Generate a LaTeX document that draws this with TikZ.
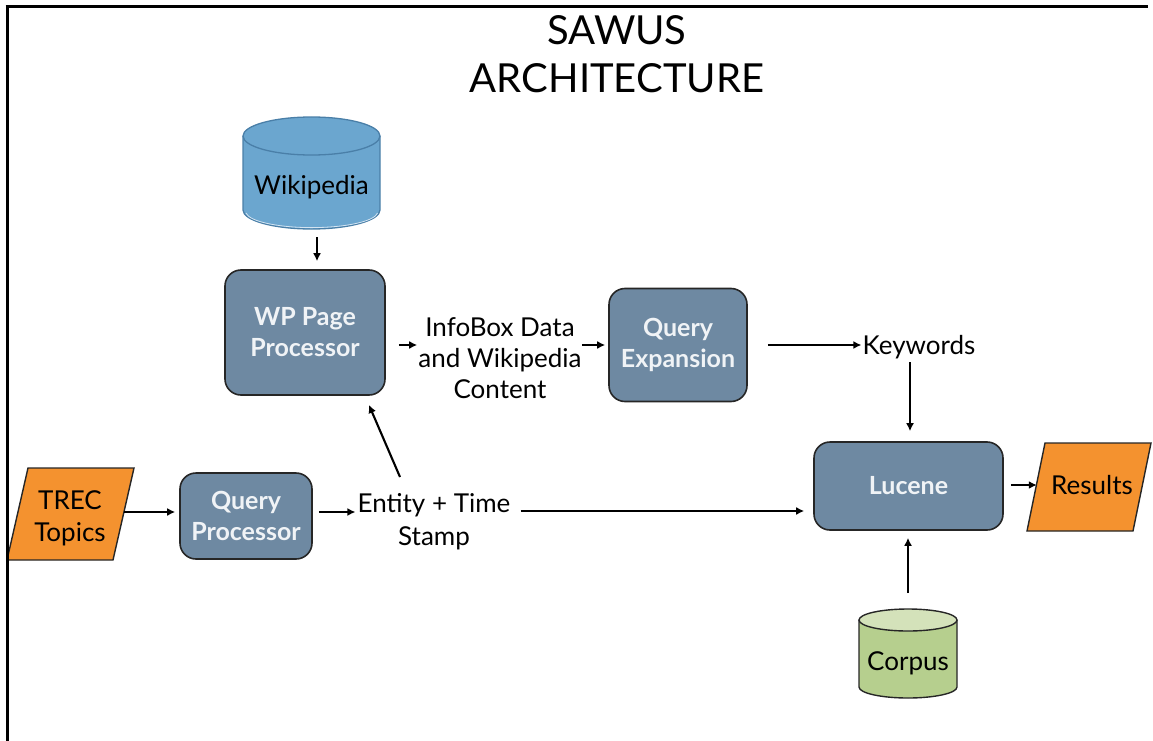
\documentclass[tikz,border=0pt]{standalone}
\usepackage{fontspec}
\setmainfont{Lato}
\usetikzlibrary{arrows.meta,calc}
\definecolor{boxfill}{HTML}{6E89A2}
\definecolor{boxtext}{HTML}{F0F3F6}
\definecolor{iofill}{HTML}{F4922F}
\definecolor{wikifill}{HTML}{6BA6CF}
\definecolor{wikiline}{HTML}{4A7FA8}
\definecolor{corpfill}{HTML}{B6CF8E}
\definecolor{corptop}{HTML}{D4E2BA}
\begin{document}
\begin{tikzpicture}[x=1pt,y=-1pt,
  proc/.style={draw=black!85, line width=1.6pt, fill=boxfill, rounded corners=16pt,
    text=boxtext, font=\fontsize{25}{31}\selectfont\bfseries, align=center, inner sep=0pt},
  lbl/.style={font=\fontsize{26}{32}\selectfont, align=center, inner sep=0pt},
  iobox/.style={draw=black!85, line width=1.4pt, fill=iofill},
  arr/.style={-{Latex[length=8pt,width=8pt]}, line width=2.1pt},
  frameline/.style={line width=3pt}]
\useasboundingbox (0,0) rectangle (1153,741);

% title
\node[font=\fontsize{40}{48}\selectfont, align=center, inner sep=0pt] (title) at (617,54) {SAWUS\\ARCHITECTURE};

% Wikipedia cylinder
\fill[wikifill] (243,136) -- (243,210) arc[start angle=180,end angle=360,x radius=68.5pt,y radius=19pt] -- (380,136) -- cycle;
\draw[wikiline, line width=1.3pt] (243,136) -- (243,210) arc[start angle=180,end angle=360,x radius=68.5pt,y radius=19pt] -- (380,136);
\draw[line width=0.8pt, white!70!wikifill] (246,213) arc[start angle=185,end angle=355,x radius=66pt,y radius=16pt];
\filldraw[fill=wikifill, draw=wikiline, line width=1.3pt] (311.5,136) ellipse[x radius=68.5pt, y radius=19pt];
\node[lbl] (wiki) at (311.5,187) {Wikipedia};
\coordinate (wikibot) at (317,229);

% Corpus cylinder
\filldraw[fill=corpfill, draw=black!85, line width=1.4pt] (859,620) -- (859,687) arc[start angle=180,end angle=360,x radius=49pt,y radius=11pt] -- (957,620);
\filldraw[fill=corptop, draw=black!85, line width=1.4pt] (908,620) ellipse[x radius=49pt, y radius=11pt];
\node[lbl] (corpus) at (908,663) {Corpus};
\coordinate (corptopc) at (908,609);

% process boxes
\node[proc, minimum width=160pt, minimum height=125pt] (wp) at (305,332.5) {WP Page\\Processor};
\node[proc, minimum width=138pt, minimum height=113pt] (qe) at (678,345) {Query\\Expansion};
\node[proc, minimum width=132pt, minimum height=86pt] (qp) at (246,516) {Query\\Processor};
\node[proc, minimum width=189pt, minimum height=88pt] (lucene) at (908.5,486) {Lucene};

% parallelograms
\draw[iobox] (28,468) -- (134,468) -- (113,560) -- (7,560) -- cycle;
\node[lbl, minimum width=108pt] (trec) at (70,518) {TREC\\Topics};
\draw[iobox] (1045,443) -- (1151,443) -- (1133,531) -- (1027,531) -- cycle;
\node[lbl, minimum width=110pt] (results) at (1092,485) {Results};

% text labels
\node[lbl, font=\fontsize{26}{31}\selectfont] (info) at (500,358) {InfoBox Data\\and Wikipedia\\Content};
\node[lbl] (kw) at (919,347) {Keywords};
\node[lbl, font=\fontsize{26}{33}\selectfont] (entity) at (434,522) {Entity + Time\\Stamp};
\coordinate (entup) at (400,477);

% connectors
\draw[arr, shorten <=8pt, shorten >=8pt] (wikibot) -- (wp.north -| wikibot);
\draw[arr, shorten <=13pt, shorten >=1pt] (wp.east |- qe) -- (info.west |- qe);
\draw[arr, shorten <=0pt, shorten >=3pt] (info.east |- qe) -- (qe.west);
\draw[arr, shorten <=20pt, shorten >=1pt] (qe.east) -- (kw.west |- qe);
\draw[arr, shorten <=3pt, shorten >=10pt] (kw.south -| 910,0) -- (lucene.north -| 910,0);
\draw[arr, shorten <=0pt, shorten >=4pt] (trec.east |- 0,512) -- (qp.west |- 0,512);
\draw[arr, shorten <=6pt, shorten >=2pt] (qp.east |- 0,512) -- (entity.west |- 0,512);
\draw[arr, shorten <=10pt, shorten >=9pt] (entity.east |- 0,511) -- (lucene.west |- 0,511);
\draw[arr, shorten >=10pt] (entup) -- (wp.south -| 365,0);
\draw[arr, shorten <=16pt, shorten >=7pt] (corptopc) -- (lucene.south -| corptopc);
\draw[arr, shorten <=7pt, shorten >=0pt] (lucene.east |- results) -- (results.west);

% frame
\draw[frameline] (5.5,7) -- (1148,7);
\draw[frameline] (7,5.5) -- (7,741);
\end{tikzpicture}
\end{document}
